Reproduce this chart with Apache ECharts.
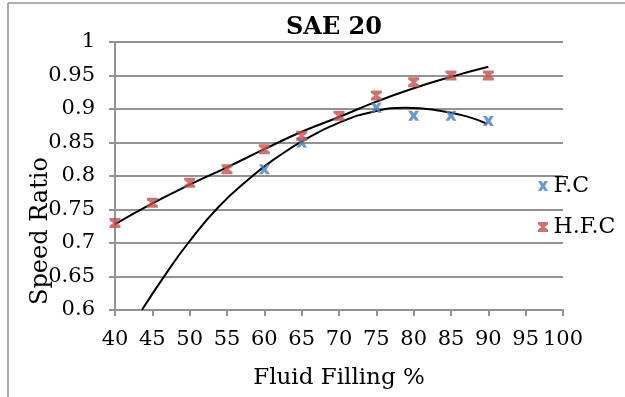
<!DOCTYPE html>
<html>
<head>
<meta charset="utf-8">
<script src="https://cdn.jsdelivr.net/npm/echarts@6/dist/echarts.min.js"></script>
<style>
html,body{margin:0;padding:0;background:#fff;}
#chart{width:625px;height:397px;}
</style>
</head>
<body>
<div id="chart"></div>
<script>
// Data
var titleText = 'SAE 20';
var xAxisName = 'Fluid Filling %';
var yAxisName = 'Speed Ratio';
var seriesNames = ['F.C', 'H.F.C'];

// F.C (blue) measured points [filling %, speed ratio]
var fcPoints = [[60, 0.81], [65, 0.85], [75, 0.902], [80, 0.89], [85, 0.89], [90, 0.882]];
// H.F.C (red) measured points
var hfcPoints = [[40, 0.73], [45, 0.76], [50, 0.79], [55, 0.81], [60, 0.84], [65, 0.86], [70, 0.89], [75, 0.92], [80, 0.94], [85, 0.95], [90, 0.95]];

// Trendlines
var fcTrend = [[43.6, 0.6], [46.7, 0.652], [49.8, 0.70], [53.8, 0.753], [58.1, 0.797], [61.2, 0.824], [65.7, 0.856], [70.1, 0.880], [74.6, 0.896], [79, 0.902], [83.5, 0.8975], [87.1, 0.889], [89.8, 0.878]];
var hfcTrend = [[40, 0.728], [45, 0.759], [50, 0.787], [55, 0.813], [60, 0.840], [65, 0.866], [70, 0.888], [75, 0.911], [80, 0.931], [85, 0.948], [90, 0.963]];

var xMin = 40, xMax = 100, xStep = 5;
var yMin = 0.6, yMax = 1, yStep = 0.05;

var FONT = 'DejaVu Serif';
var BLUE = '#4a7ebb';
var RED = '#c0504d';
var GRAY = '#939393';

var xSymbol = 'path://M0,0 L3.4,0 L5,2.6 L6.6,0 L10,0 L7,5 L10,10 L6.6,10 L5,7.4 L3.4,10 L0,10 L3,5 Z';
var hourglass = 'path://M0,0 L10,0 L10,2.5 L6.6,5 L10,7.5 L10,10 L0,10 L0,7.5 L3.4,5 L0,2.5 Z';

var chart = echarts.init(document.getElementById('chart'));
chart.setOption({
  backgroundColor: '#fff',
  animation: false,
  title: {
    text: titleText,
    left: 281,
    top: 11,
    textStyle: {fontFamily: FONT, fontWeight: 'bold', fontSize: 24, color: '#000'}
  },
  grid: {left: 115, right: 62, top: 42, bottom: 87, containLabel: false},
  legend: {
    orient: 'vertical',
    left: 533,
    top: 170,
    itemWidth: 11,
    itemHeight: 10,
    itemGap: 19,
    data: seriesNames,
    textStyle: {fontFamily: FONT, fontSize: 22, color: '#000', padding: [0, 0, 0, 0]}
  },
  graphic: [
    {type: 'line', shape: {x1: 8, y1: 3, x2: 625, y2: 3}, style: {stroke: GRAY, lineWidth: 1.5}},
    {type: 'line', shape: {x1: 8, y1: 3, x2: 8, y2: 397}, style: {stroke: GRAY, lineWidth: 1.5}},
    {type: 'text', x: 41, y: 231, rotation: Math.PI / 2,
     style: {text: yAxisName, font: '24px "DejaVu Serif"', fill: '#000', textAlign: 'center', textVerticalAlign: 'middle'}}
  ],
  xAxis: {
    type: 'value', min: xMin, max: xMax, interval: xStep,
    name: xAxisName, nameLocation: 'middle', nameGap: 57,
    nameTextStyle: {fontFamily: FONT, fontSize: 23, color: '#000'},
    axisLine: {show: true, lineStyle: {color: GRAY, width: 2}},
    axisTick: {show: true, inside: false, length: 6, lineStyle: {color: GRAY, width: 2}},
    axisLabel: {fontFamily: FONT, fontSize: 21, color: '#000', margin: 19},
    splitLine: {show: false}
  },
  yAxis: {
    type: 'value', min: yMin, max: yMax, interval: yStep,
    axisLine: {show: true, lineStyle: {color: GRAY, width: 2}},
    axisTick: {show: true, inside: false, length: 6, lineStyle: {color: GRAY, width: 2}},
    axisLabel: {fontFamily: FONT, fontSize: 21, color: '#000', margin: 20},
    splitLine: {show: true, lineStyle: {color: GRAY, width: 2}}
  },
  series: [
    {name: 'F.C trend', type: 'line', data: fcTrend, smooth: true, showSymbol: false, symbol: 'none',
     lineStyle: {color: '#000', width: 2}, z: 3, silent: true},
    {name: 'H.F.C trend', type: 'line', data: hfcTrend, smooth: true, showSymbol: false, symbol: 'none',
     lineStyle: {color: '#000', width: 2}, z: 3, silent: true},
    {name: seriesNames[0], type: 'scatter', data: fcPoints, symbol: xSymbol, symbolSize: [11, 10],
     itemStyle: {color: BLUE}, z: 4},
    {name: seriesNames[1], type: 'scatter', data: hfcPoints, symbol: hourglass, symbolSize: [11, 10],
     itemStyle: {color: RED}, z: 4}
  ]
});
</script>
</body>
</html>
